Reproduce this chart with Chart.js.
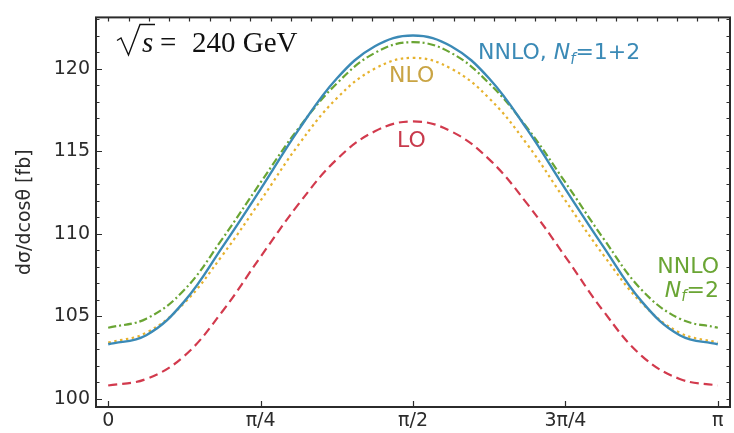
<!DOCTYPE html>
<html>
<head>
<meta charset="utf-8">
<script src="https://cdn.jsdelivr.net/npm/chart.js@4.4.1/dist/chart.umd.min.js"></script>
<style>
  html, body { margin: 0; padding: 0; background: #fff; }
  #wrap { width: 734px; height: 433px; }
</style>
</head>
<body>
<div id="wrap"><canvas id="chart"></canvas></div>
<script>
// scattering angle theta, in units of pi
const angles = [0, 0.0625, 0.125, 0.1875, 0.25, 0.3125, 0.375, 0.4375, 0.5,
                0.5625, 0.625, 0.6875, 0.75, 0.8125, 0.875, 0.9375, 1];

// d sigma / d cos theta [fb]
const loValues     = [100.8, 101.2, 102.6, 105.3, 108.6, 111.8, 114.5, 116.2, 116.8,
                      116.2, 114.5, 111.8, 108.6, 105.3, 102.6, 101.2, 100.8];
const nloValues    = [103.4, 104.0, 105.8, 108.7, 112.0, 115.4, 118.2, 120.0, 120.65,
                      120.0, 118.2, 115.4, 112.0, 108.7, 105.8, 104.0, 103.4];
const nnloValues   = [103.3, 103.85, 105.9, 109.2, 112.7, 116.3, 119.4, 121.35, 122.0,
                      121.35, 119.4, 116.3, 112.7, 109.2, 105.9, 103.85, 103.3];
const nnloNf2Values = [104.3, 104.85, 106.6, 109.7, 113.1, 116.4, 119.1, 120.95, 121.6,
                      120.95, 119.1, 116.4, 113.1, 109.7, 106.6, 104.85, 104.3];

const xTickValues = [0, 0.25, 0.5, 0.75, 1];
const xTickLabels = ['0', 'π/4', 'π/2', '3π/4', 'π'];
const yTickValues = [100, 105, 110, 115, 120];

const BLUE = '#3b8ab6';
const GREEN = '#6aa534';
const GOLD = '#e6b22e';
const RED = '#d23a4d';
const INK = '#2b2b2b';

function points(values) {
    return values.map((v, i) => ({ x: angles[i], y: v }));
}

function drawRuns(ctx, x, y, runs, size) {
    for (const r of runs) {
        const s = r.sub ? size * 0.68 : size;
        ctx.font = (r.italic ? 'italic ' : '') + s + 'px "DejaVu Sans"';
        ctx.fillText(r.text, x, y + (r.sub ? size * 0.22 : 0));
        x += ctx.measureText(r.text).width;
    }
    return x;
}

function runsWidth(ctx, runs, size) {
    let w = 0;
    for (const r of runs) {
        const s = r.sub ? size * 0.68 : size;
        ctx.font = (r.italic ? 'italic ' : '') + s + 'px "DejaVu Sans"';
        w += ctx.measureText(r.text).width;
    }
    return w;
}

// frame with inward ticks on all four sides, plus the text labels
const frameTicks = {
    id: 'frameTicks',
    afterDatasetsDraw(chart) {
        const { ctx, chartArea: a, scales: { x, y } } = chart;
        ctx.save();
        ctx.strokeStyle = INK;
        ctx.lineWidth = 1.2;
        ctx.beginPath();
        for (let v = 100; v <= 123; v++) {
            const py = Math.round(y.getPixelForValue(v)) + 0.5;
            const len = v % 5 === 0 ? 6 : 3.5;
            ctx.moveTo(a.left, py); ctx.lineTo(a.left + len, py);
            ctx.moveTo(a.right, py); ctx.lineTo(a.right - 3.5, py);
        }
        for (let k = 0; k <= 30; k++) {
            const px = Math.round(x.getPixelForValue(k / 30)) + 0.5;
            ctx.moveTo(px, a.top); ctx.lineTo(px, a.top + 4);
        }
        xTickValues.forEach(v => {
            const px = Math.round(x.getPixelForValue(v)) + 0.5;
            ctx.moveTo(px, a.bottom); ctx.lineTo(px, a.bottom - 6);
        });
        ctx.stroke();
        ctx.lineWidth = 2;
        ctx.strokeRect(a.left, a.top, a.right - a.left, a.bottom - a.top);
        ctx.restore();
    },
    afterDraw(chart) {
        const ctx = chart.ctx;
        ctx.save();
        ctx.textAlign = 'left';
        ctx.textBaseline = 'alphabetic';

        // sqrt(s) = 240 GeV
        ctx.fillStyle = '#111';
        ctx.strokeStyle = '#111';
        ctx.lineWidth = 1.4;
        ctx.beginPath();
        ctx.moveTo(117, 40.5);
        ctx.lineTo(121, 38);
        ctx.lineTo(128.5, 55);
        ctx.lineTo(140, 24.5);
        ctx.lineTo(155, 24.5);
        ctx.stroke();
        ctx.font = 'italic 29px "Liberation Serif"';
        ctx.fillText('s', 142, 52);
        ctx.font = '29px "Liberation Serif"';
        ctx.fillText('=', 160, 52);
        ctx.fillText('240 GeV', 192, 52);

        ctx.fillStyle = BLUE;
        drawRuns(ctx, 478, 59, [
            { text: 'NNLO, ' }, { text: 'N', italic: true },
            { text: 'f', italic: true, sub: true }, { text: '=1+2' }
        ], 22);

        ctx.fillStyle = '#c9a444';
        drawRuns(ctx, 389, 81.5, [{ text: 'NLO' }], 22);

        ctx.fillStyle = '#c83a4c';
        drawRuns(ctx, 397, 147, [{ text: 'LO' }], 22);

        ctx.fillStyle = GREEN;
        const r1 = [{ text: 'NNLO' }];
        drawRuns(ctx, 719 - runsWidth(ctx, r1, 22), 272.5, r1, 22);
        const r2 = [{ text: 'N', italic: true }, { text: 'f', italic: true, sub: true }, { text: '=2' }];
        drawRuns(ctx, 719 - runsWidth(ctx, r2, 22), 296.5, r2, 22);
        ctx.restore();
    }
};

const ctxChart = document.getElementById('chart');
new Chart(ctxChart, {
    type: 'line',
    data: {
        datasets: [
            {
                label: 'NNLO, Nf=1+2',
                data: points(nnloValues),
                borderColor: BLUE,
                borderWidth: 2.4,
                order: 0
            },
            {
                label: 'NNLO, Nf=2',
                data: points(nnloNf2Values),
                borderColor: GREEN,
                borderWidth: 2.2,
                borderDash: [8, 3, 2, 3],
                order: 1
            },
            {
                label: 'NLO',
                data: points(nloValues),
                borderColor: GOLD,
                borderWidth: 2.2,
                borderDash: [2.5, 3.5],
                order: 2
            },
            {
                label: 'LO',
                data: points(loValues),
                borderColor: RED,
                borderWidth: 2.2,
                borderDash: [9, 5],
                order: 3
            }
        ]
    },
    options: {
        responsive: true,
        maintainAspectRatio: false,
        animation: false,
        layout: { padding: { top: 13, right: 4, left: 0, bottom: 0 } },
        elements: {
            point: { radius: 0 },
            line: { tension: 0.4, fill: false }
        },
        plugins: {
            legend: { display: false },
            tooltip: { enabled: false }
        },
        scales: {
            x: {
                type: 'linear',
                min: -0.02,
                max: 1.02,
                grid: { display: false, drawTicks: false },
                border: { display: false },
                afterBuildTicks: scale => { scale.ticks = xTickValues.map(v => ({ value: v })); },
                afterFit: scale => { scale.height = 26; },
                ticks: {
                    padding: 3,
                    color: INK,
                    font: { family: 'DejaVu Sans', size: 19 },
                    callback: value => xTickLabels[xTickValues.indexOf(value)]
                }
            },
            y: {
                min: 99.5,
                max: 123.1,
                grid: { display: false, drawTicks: false },
                border: { display: false },
                afterBuildTicks: scale => { scale.ticks = yTickValues.map(v => ({ value: v })); },
                afterFit: scale => { scale.width = 96; },
                ticks: {
                    padding: 6,
                    color: INK,
                    font: { family: 'DejaVu Sans', size: 19 }
                },
                title: {
                    display: true,
                    text: 'dσ/dcosθ [fb]',
                    color: INK,
                    font: { family: 'DejaVu Sans', size: 19 },
                    padding: { top: 14, bottom: 0 }
                }
            }
        }
    },
    plugins: [frameTicks]
});
</script>
</body>
</html>
